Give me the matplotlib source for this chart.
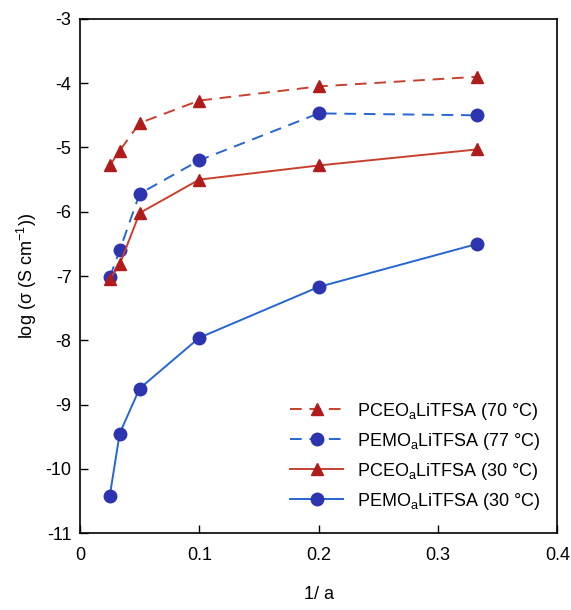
import matplotlib
matplotlib.use("Agg")
import matplotlib.pyplot as plt

plt.rcParams['font.family'] = ['Liberation Sans', 'DejaVu Sans']
plt.rcParams['mathtext.fontset'] = 'custom'
plt.rcParams['mathtext.rm'] = 'Liberation Sans'
plt.rcParams['axes.unicode_minus'] = False

# 1/a values (a = 40, 30, 20, 10, 5, 3)
inv_a = [0.025, 0.0333, 0.05, 0.1, 0.2, 0.333]

pceo_70 = [-5.28, -5.05, -4.62, -4.27, -4.05, -3.90]
pemo_77 = [-7.02, -6.60, -5.72, -5.20, -4.47, -4.50]
pceo_30 = [-7.05, -6.82, -6.02, -5.50, -5.28, -5.03]
pemo_30 = [-10.42, -9.45, -8.75, -7.96, -7.17, -6.50]

labels = ['PCEO$_{\\mathregular{a}}$LiTFSA (70 °C)',
          'PEMO$_{\\mathregular{a}}$LiTFSA (77 °C)',
          'PCEO$_{\\mathregular{a}}$LiTFSA (30 °C)',
          'PEMO$_{\\mathregular{a}}$LiTFSA (30 °C)']

red = '#b01c1c'
red_line = '#c8412f'
blue = '#2c34b0'
blue_line = '#2766d0'

fig = plt.figure(figsize=(5.71, 6.10), dpi=100)
ax = fig.add_axes([0.140, 0.126, 0.836, 0.843])

ax.plot(inv_a, pceo_70, '--', color=red_line, lw=1.4, dashes=(6, 4),
        marker='^', ms=9, mfc=red, mec=red, label=labels[0])
ax.plot(inv_a, pemo_77, '--', color=blue_line, lw=1.4, dashes=(6, 4),
        marker='o', ms=9, mfc=blue, mec=blue, label=labels[1])
ax.plot(inv_a, pceo_30, '-', color=red_line, lw=1.4,
        marker='^', ms=9, mfc=red, mec=red, label=labels[2])
ax.plot(inv_a, pemo_30, '-', color=blue_line, lw=1.4,
        marker='o', ms=9, mfc=blue, mec=blue, label=labels[3])

ax.set_xlim(0, 0.4)
ax.set_ylim(-11, -3)
ax.set_xticks([0, 0.1, 0.2, 0.3, 0.4])
ax.set_xticklabels(['0', '0.1', '0.2', '0.3', '0.4'])
ax.set_yticks(range(-11, -2))
ax.tick_params(direction='in', length=6, width=1, labelsize=13, pad=10)
ax.tick_params(axis='y', pad=6)
for s in ax.spines.values():
    s.set_linewidth(1.2)

ax.set_xlabel('1/ a', fontsize=13, labelpad=16)
ax.set_ylabel('log (σ (S cm$^{\\mathregular{-1}}$))', fontsize=13, labelpad=5)

ax.legend(loc='lower right', frameon=False, fontsize=13, handlelength=2.9,
          labelspacing=0.5, bbox_to_anchor=(1.0, 0.01))

fig.savefig('out.png', dpi=100)
